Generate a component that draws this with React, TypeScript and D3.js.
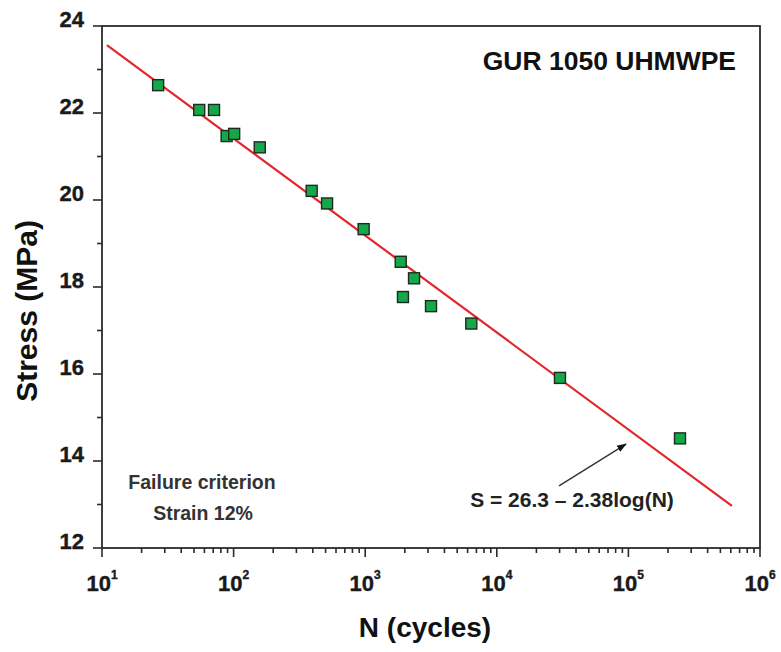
import React from "react";
import * as d3 from "d3";

// Fatigue data: cycles to failure vs. applied stress
const cycles = [26.7, 54.8, 71, 88.5, 101, 158, 392, 513, 973, 1862, 2350, 1936, 3163, 6400, 30200, 246600];
const stress = [22.64, 22.07, 22.07, 21.47, 21.52, 21.21, 20.21, 19.92, 19.33, 18.58, 18.2, 17.77, 17.56, 17.16, 15.91, 14.52];

// Fitted S-N line endpoints (N, S)
const fitN = [10.9, 612000];
const fitS = [23.56, 12.97];

// Axis ticks
const xMajor = [1e1, 1e2, 1e3, 1e4, 1e5, 1e6];
const xExponents = ["1", "2", "3", "4", "5", "6"];
const yMajor = [12, 14, 16, 18, 20, 22, 24];
const yMinor = [13, 15, 17, 19, 21, 23];

// Arrow annotation (from, to) in data units
const arrowN = [29700, 95900];
const arrowS = [13.43, 14.39];

const W = 781;
const H = 652;
const left = 102;
const right = 760;
const top = 26;
const bottom = 548;

const FONT = "'Liberation Sans', Arial, Helvetica, sans-serif";
const AXIS = "#2b2b2b";

export default function App() {
  const x = d3.scaleLog().domain([10, 1e6]).range([left, right]);
  const y = d3.scaleLinear().domain([12, 24]).range([bottom, top]);

  const xMinor: number[] = [];
  for (let e = 1; e < 6; e++) {
    for (let k = 2; k <= 9; k++) xMinor.push(k * Math.pow(10, e));
  }

  const fitLine = d3
    .line<number>()
    .x((_, i) => x(fitN[i]))
    .y((_, i) => y(fitS[i]))(fitN as any);

  const ax0 = x(arrowN[0]);
  const ay0 = y(arrowS[0]);
  const ax1 = x(arrowN[1]);
  const ay1 = y(arrowS[1]);

  const ms = 11;

  return (
    <svg
      width={W}
      height={H}
      style={{ position: "absolute", left: 0, top: 0, display: "block", background: "#fff" }}
      fontFamily={FONT}
    >
      <defs>
        <marker id="arrowHead" viewBox="0 0 10 10" refX="9" refY="5" markerWidth="10" markerHeight="10" orient="auto" markerUnits="userSpaceOnUse">
          <path d="M0,1.5 L10,5 L0,8.5 Z" fill="#111" />
        </marker>
      </defs>

      {/* fitted line */}
      <path d={fitLine || ""} stroke="#e2262b" strokeWidth={2.2} fill="none" />

      {/* data points */}
      {cycles.map((n, i) => (
        <rect
          key={i}
          x={x(n) - ms / 2}
          y={y(stress[i]) - ms / 2}
          width={ms}
          height={ms}
          fill="#14a84a"
          stroke="#1c2a20"
          strokeWidth={1.4}
        />
      ))}

      {/* frame */}
      <rect x={left} y={top} width={right - left} height={bottom - top} fill="none" stroke={AXIS} strokeWidth={1.8} />

      {/* y ticks */}
      {yMajor.map((v) => (
        <g key={"ym" + v}>
          <line x1={left - 9} x2={left} y1={y(v)} y2={y(v)} stroke={AXIS} strokeWidth={1.6} />
          <text x={84} y={y(v) + 1} textAnchor="end" fontSize={22} fontWeight="bold" fill="#1a1a1a" stroke="#1a1a1a" strokeWidth={0.4}>
            {v}
          </text>
        </g>
      ))}
      {yMinor.map((v) => (
        <line key={"yn" + v} x1={left - 5} x2={left} y1={y(v)} y2={y(v)} stroke={AXIS} strokeWidth={1.6} />
      ))}

      {/* x ticks */}
      {xMajor.map((v, i) => (
        <g key={"xm" + v}>
          <line x1={x(v)} x2={x(v)} y1={bottom} y2={bottom + 9} stroke={AXIS} strokeWidth={1.6} />
          <text x={x(v)} y={591} textAnchor="middle" fontSize={22} fontWeight="bold" fill="#1a1a1a" stroke="#1a1a1a" strokeWidth={0.4}>
            10
            <tspan fontSize={12} dy={-12}>
              {xExponents[i]}
            </tspan>
          </text>
        </g>
      ))}
      {xMinor.map((v) => (
        <line key={"xn" + v} x1={x(v)} x2={x(v)} y1={bottom} y2={bottom + 5} stroke={AXIS} strokeWidth={1.6} />
      ))}

      {/* axis titles */}
      <text x={425} y={637} textAnchor="middle" fontSize={28} fontWeight="bold" fill="#111">
        N (cycles)
      </text>
      <text
        transform={`translate(37,311) rotate(-90)`}
        textAnchor="middle"
        fontSize={30}
        fontWeight="bold"
        fill="#111"
      >
        Stress (MPa)
      </text>

      {/* annotations */}
      <text x={736} y={70} textAnchor="end" fontSize={26.5} fontWeight="bold" fill="#111">
        GUR 1050 UHMWPE
      </text>
      <text x={202} y={489} textAnchor="middle" fontSize={19.5} fontWeight="bold" fill="#333">
        Failure criterion
      </text>
      <text x={203} y={520} textAnchor="middle" fontSize={19.5} fontWeight="bold" fill="#333">
        Strain 12%
      </text>
      <text x={572} y={507} textAnchor="middle" fontSize={21} fontWeight="bold" fill="#222">
        S = 26.3 – 2.38log(N)
      </text>
      <line x1={ax0} y1={ay0} x2={ax1} y2={ay1} stroke="#333" strokeWidth={1.4} markerEnd="url(#arrowHead)" />
    </svg>
  );
}
